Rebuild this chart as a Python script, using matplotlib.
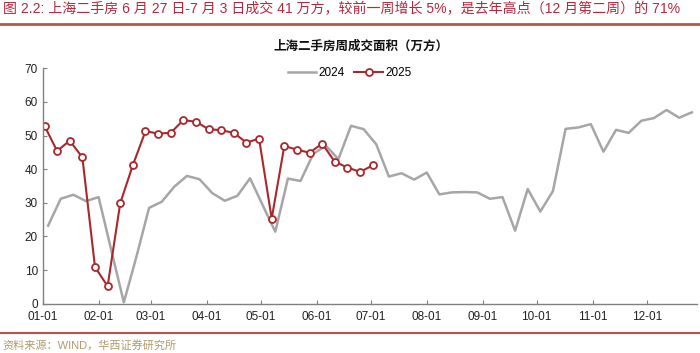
# -*- coding: utf-8 -*-
"""
上海二手房周成交面积 (2024 vs 2025), weekly
"""
import numpy as np
import pandas as pd
import matplotlib
matplotlib.use('Agg')
from matplotlib import pyplot as plt
import matplotlib.dates as mdates

plt.rcParams['font.family'] = ['Liberation Sans', 'Noto Sans CJK SC', 'DejaVu Sans']

# weekly values, both years drawn on one Jan-Dec axis (2024 calendar)
start_2024 = '2024-01-04'
vals_2024 = [23.2, 31.2, 32.4, 30.5, 31.7, 16.0, 0.4, 14.0, 28.5, 30.3,
             34.8, 38.0, 37.0, 32.9, 30.6, 32.1, 37.3, 29.3, 21.4, 37.2,
             36.5, 44.5, 47.0, 43.0, 52.9, 51.9, 47.4, 37.8, 38.8, 36.9,
             39.0, 32.5, 33.1, 33.2, 33.1, 31.2, 31.7, 21.7, 34.1, 27.4,
             33.5, 52.0, 52.4, 53.4, 45.2, 51.7, 50.8, 54.4, 55.2, 57.6,
             55.3, 56.9]

start_2025 = '2024-01-02'
vals_2025 = [52.9, 45.4, 48.5, 43.5, 10.9, 5.2, 29.9, 41.2, 51.3, 50.6,
             50.8, 54.6, 54.1, 51.9, 51.6, 50.8, 47.9, 49.1, 25.3, 46.9,
             45.8, 44.9, 47.6, 42.2, 40.5, 39.2, 41.1]

labels = ['2024', '2025']
fig_title = '图 2.2: 上海二手房 6 月 27 日-7 月 3 日成交 41 万方，较前一周增长 5%，是去年高点（12 月第二周）的 71%'
chart_title = '上海二手房周成交面积（万方）'
source = '资料来源：WIND，华西证券研究所'

dates_2024 = pd.date_range(start_2024, periods=len(vals_2024), freq='7D')
dates_2025 = pd.date_range(start_2025, periods=len(vals_2025), freq='7D')

fig = plt.figure(figsize=(7.0, 3.53), dpi=100)
ax = fig.add_axes([0.061, 0.1397, 0.935, 0.6668])

ax.plot(dates_2024, vals_2024, color='#a6a6a6', lw=1.8, label=labels[0])
ax.plot(dates_2025, vals_2025, color='#a8282c', lw=1.5, marker='o',
        markersize=5, markerfacecolor='white', markeredgecolor='#a8282c',
        markeredgewidth=1.3, label=labels[1])

ax.set_ylim(0, 70)
ax.set_yticks(np.arange(0, 71, 10))
ax.set_xlim(pd.Timestamp('2024-01-01'), pd.Timestamp('2024-12-29'))
ax.xaxis.set_major_locator(mdates.MonthLocator())
ax.xaxis.set_major_formatter(mdates.DateFormatter('%m-%d'))

for s in ['top', 'right']:
    ax.spines[s].set_visible(False)
for s in ['left', 'bottom']:
    ax.spines[s].set_color('#808080')
    ax.spines[s].set_linewidth(1.0)
ax.tick_params(direction='in', length=3, color='#808080', labelsize=8.5,
               labelcolor='#222222')
ax.tick_params(axis='x', pad=5)

leg = ax.legend(loc='upper center', ncol=2, frameon=False, fontsize=8.5,
                bbox_to_anchor=(0.469, 1.05), handlelength=2.4, columnspacing=0.8,
                handletextpad=0.2)

fig.text(0.004, 0.975, fig_title, color='#b8283c', fontsize=10.1,
         ha='left', va='center')
fig.add_artist(plt.Line2D([0, 1], [0.932, 0.932], color='#c0504d', lw=2))
fig.text(0.516, 0.867, chart_title, fontsize=9, fontweight='bold',
         ha='center', va='center', color='#111111')
fig.add_artist(plt.Line2D([0, 1], [0.058, 0.058], color='#c0504d', lw=1.5))
fig.text(0.004, 0.023, source, color='#b09a6e', fontsize=8,
         ha='left', va='center')

plt.savefig('out.png', dpi=100)
